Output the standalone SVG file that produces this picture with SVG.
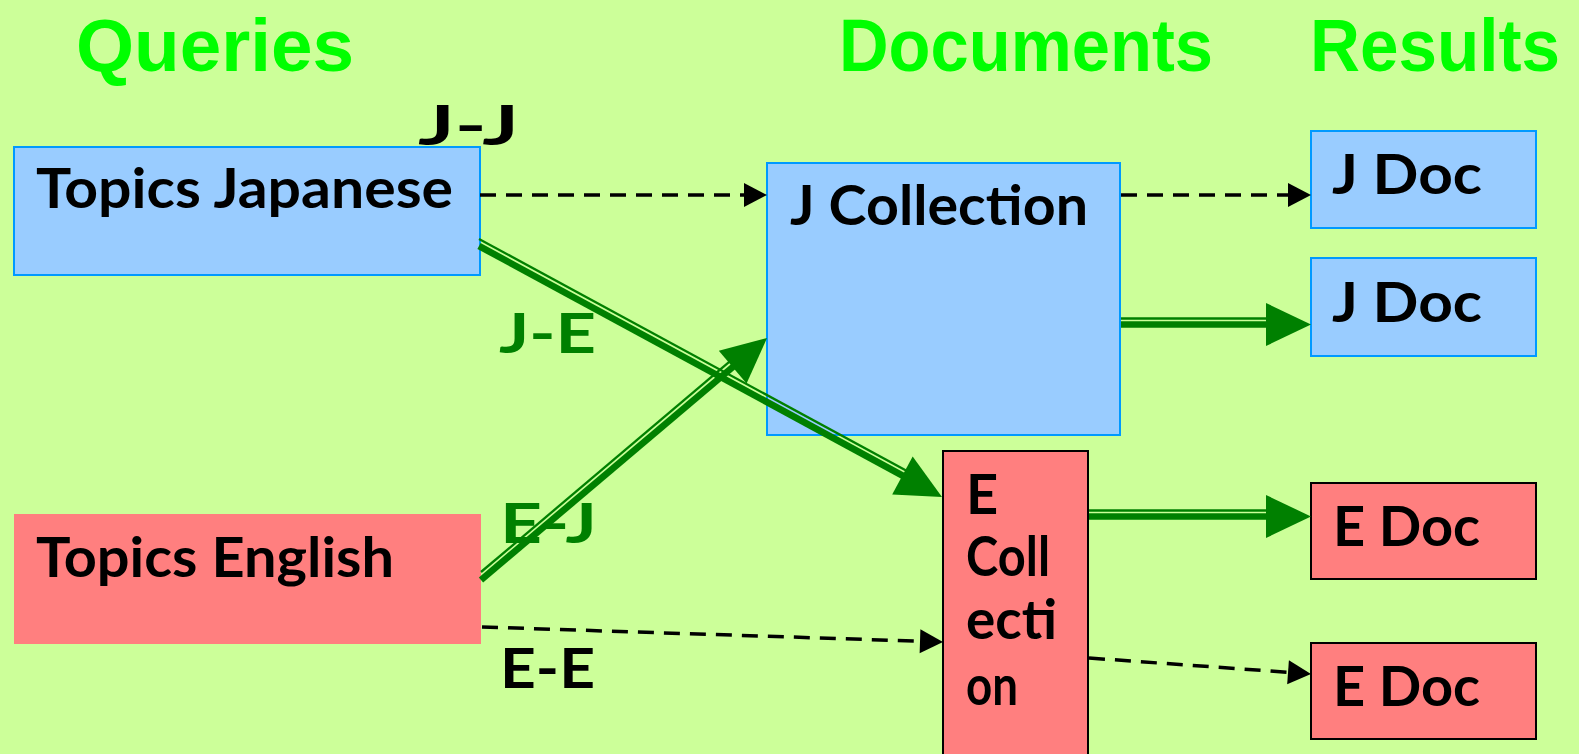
<svg xmlns="http://www.w3.org/2000/svg" width="1579" height="754" viewBox="0 0 1579 754">
<style>
text{font-family:Lato,"Open Sans","Liberation Sans",sans-serif;font-weight:bold}
.title{font-family:"Liberation Sans",Arial,sans-serif;font-size:74px;fill:#00FF00}
.t{font-size:56px;fill:#000}
.g{fill:#008000}
.blue{fill:#99CCFF;stroke:#0099FF;stroke-width:2}
.red{fill:#FF7F7F;stroke:#000;stroke-width:2}
.dash{fill:none;stroke:#000;stroke-width:3.5;stroke-dasharray:16 10}
.thick{fill:none;stroke:#008000;stroke-width:6.7}
.thin{fill:none;stroke:#008000;stroke-width:2.3}
</style>
<defs>
<marker id="ah" markerUnits="userSpaceOnUse" markerWidth="23" markerHeight="24" refX="18" refY="12" orient="auto" overflow="visible">
<path d="M0,0 L23,12 L0,24 Z" fill="#000"/>
</marker>
<marker id="gh" markerUnits="userSpaceOnUse" markerWidth="45" markerHeight="43" refX="35" refY="21.5" orient="auto" overflow="visible">
<path d="M0,0 L45,21.5 L0,43 Z" fill="#008000"/>
</marker>
</defs>
<rect width="1579" height="754" fill="#CCFF99"/>
<g id="titles">
<text class="title" x="76" y="71" textLength="278" lengthAdjust="spacingAndGlyphs">Queries</text>
<text class="title" x="839" y="71" textLength="374" lengthAdjust="spacingAndGlyphs">Documents</text>
<text class="title" x="1310" y="71" textLength="250" lengthAdjust="spacingAndGlyphs">Results</text>
</g>
<g id="topics-japanese">
<rect class="blue" x="14" y="147" width="466" height="128"/>
<text class="t" x="36" y="208" textLength="417" lengthAdjust="spacingAndGlyphs">Topics Japanese</text>
</g>
<g id="topics-english">
<rect x="14" y="514" width="467" height="130" fill="#FF7F7F"/>
<text class="t" x="36" y="577" textLength="358" lengthAdjust="spacingAndGlyphs">Topics English</text>
</g>
<g id="j-collection">
<rect class="blue" x="767" y="163" width="353" height="272"/>
<text class="t" x="790" y="225" textLength="298" lengthAdjust="spacingAndGlyphs">J Collection</text>
</g>
<g id="e-collection">
<rect class="red" x="943" y="451" width="145" height="320"/>
<text class="t" x="966" y="514">E</text>
<text class="t" x="966" y="576" textLength="84" lengthAdjust="spacingAndGlyphs">Coll</text>
<text class="t" x="966" y="639" textLength="91" lengthAdjust="spacingAndGlyphs">ecti</text>
<text class="t" x="966" y="705" textLength="52" lengthAdjust="spacingAndGlyphs">on</text>
</g>
<g id="j-doc-1">
<rect class="blue" x="1311" y="131" width="225" height="97"/>
<text class="t" x="1332" y="194" textLength="150" lengthAdjust="spacingAndGlyphs">J Doc</text>
</g>
<g id="j-doc-2">
<rect class="blue" x="1311" y="258" width="225" height="98"/>
<text class="t" x="1332" y="322" textLength="150" lengthAdjust="spacingAndGlyphs">J Doc</text>
</g>
<g id="e-doc-1">
<rect class="red" x="1311" y="483" width="225" height="96"/>
<text class="t" x="1333" y="546" textLength="147" lengthAdjust="spacingAndGlyphs">E Doc</text>
</g>
<g id="e-doc-2">
<rect class="red" x="1311" y="643" width="225" height="96"/>
<text class="t" x="1333" y="706" textLength="147" lengthAdjust="spacingAndGlyphs">E Doc</text>
</g>
<g id="labels">
<text class="t" x="418" y="145" textLength="101" lengthAdjust="spacingAndGlyphs">J-J</text>
<text class="t g" x="499" y="353" textLength="97" lengthAdjust="spacingAndGlyphs">J-E</text>
<text class="t g" x="500" y="543" textLength="97" lengthAdjust="spacingAndGlyphs">E-J</text>
<text class="t" x="500" y="688" textLength="95" lengthAdjust="spacingAndGlyphs">E-E</text>
</g>
<g id="connectors">
<line class="dash" x1="480" y1="195" x2="762" y2="195" marker-end="url(#ah)"/>
<line class="dash" x1="1121" y1="195" x2="1306" y2="195" marker-end="url(#ah)"/>
<line class="dash" x1="482" y1="627" x2="938" y2="641.8" marker-end="url(#ah)"/>
<line class="dash" x1="1089" y1="658" x2="1306" y2="673.6" marker-end="url(#ah)"/>
<line class="thick" x1="479" y1="246" x2="933.2" y2="492.2" marker-end="url(#gh)"/>
<line class="thin" x1="479" y1="238.9" x2="929.1" y2="483"/>
<line class="thick" x1="481" y1="580" x2="759.4" y2="344.5" marker-end="url(#gh)"/>
<line class="thin" x1="481" y1="572" x2="749.3" y2="344.9"/>
<line class="thick" x1="1121" y1="324.5" x2="1301" y2="324.5" marker-end="url(#gh)"/>
<line class="thin" x1="1121" y1="318.5" x2="1290" y2="318.5"/>
<line class="thick" x1="1089" y1="516.5" x2="1301" y2="516.5" marker-end="url(#gh)"/>
<line class="thin" x1="1089" y1="510.5" x2="1290" y2="510.5"/>
</g>
</svg>
